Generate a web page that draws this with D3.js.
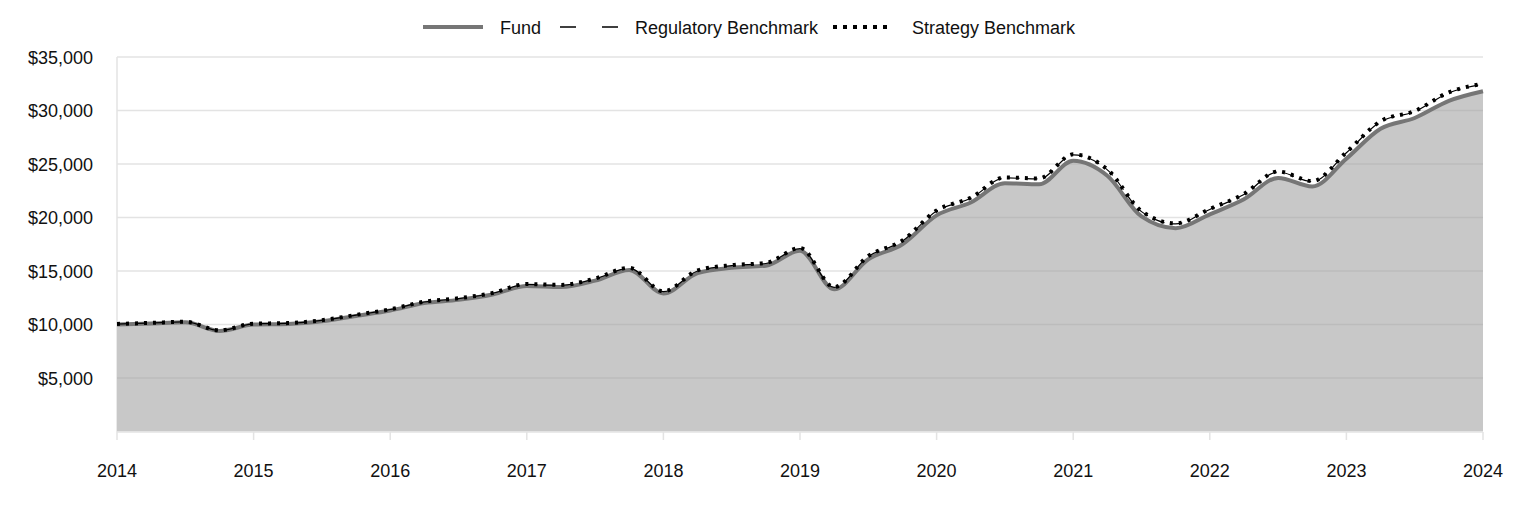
<!DOCTYPE html>
<html>
<head>
<meta charset="utf-8">
<script src="https://cdn.jsdelivr.net/npm/d3@7"></script>
<style>
  body { margin: 0; background: #fff; }
  svg { font-family: "Liberation Sans", Arial, sans-serif; }
</style>
</head>
<body>
<svg width="1524" height="516"></svg>
<script>
// quarterly points, 2014 Q1 .. 2024 Q1
const years = d3.range(41).map((i) => 2014 + i / 4);

const fund = [
  10000, 10100, 10200, 9400, 10000, 10050, 10300, 10800, 11300,
  12000, 12300, 12800, 13600, 13500, 14100, 15100, 12900,
  14800, 15300, 15500, 16900, 13300, 16100, 17500, 20200,
  21400, 23200, 23100, 25300, 23900, 20100, 19000, 20300,
  21700, 23700, 22900, 25500, 28300, 29300, 30900, 31800
];

const strategy = [
  10050, 10150, 10250, 9450, 10080, 10130, 10400, 10900, 11420,
  12130, 12450, 12950, 13780, 13700, 14300, 15300, 13100,
  15050, 15550, 15750, 17150, 13500, 16400, 17850, 20650,
  21850, 23750, 23650, 25900, 24500, 20600, 19450, 20800,
  22200, 24300, 23400, 26100, 29000, 29950, 31700, 32500
];

const regulatory = [
  10040, 10140, 10240, 9440, 10060, 10110, 10380, 10880, 11400,
  12100, 12420, 12920, 13750, 13670, 14270, 15260, 13070,
  15000, 15500, 15700, 17100, 13470, 16350, 17800, 20600,
  21800, 23700, 23600, 25850, 24450, 20550, 19400, 20750,
  22150, 24250, 23350, 26050, 28950, 29900, 31650, 32450
];

const yTicks = [5000, 10000, 15000, 20000, 25000, 30000, 35000];
const xTicks = d3.range(2014, 2025);

const svg = d3.select("svg");
const x = d3.scaleLinear().domain([2014, 2024]).range([117, 1483]);
const y = d3.scaleLinear().domain([0, 35000]).range([431.5, 57]);

// grid
svg.append("g")
  .selectAll("line")
  .data(yTicks)
  .join("line")
  .attr("x1", 117)
  .attr("x2", 1483)
  .attr("y1", (d) => y(d))
  .attr("y2", (d) => y(d))
  .attr("stroke", "#e3e3e3")
  .attr("stroke-width", 1.5);

// left axis line
svg.append("line")
  .attr("x1", 117).attr("x2", 117)
  .attr("y1", 57).attr("y2", 432)
  .attr("stroke", "#e3e3e3").attr("stroke-width", 1.5);

const fundData = years.map((t, i) => ({ t, v: fund[i] }));
const curve = d3.curveMonotoneX;

const area = d3.area()
  .x((d) => x(d.t))
  .y0(y(0))
  .y1((d) => y(d.v))
  .curve(curve);

svg.append("path")
  .datum(fundData)
  .attr("d", area)
  .attr("fill", "#c8c8c8");

svg.append("clipPath").attr("id", "under")
  .append("path").datum(fundData).attr("d", area);

// gridlines over the area appear slightly darker
svg.append("g")
  .attr("clip-path", "url(#under)")
  .selectAll("line")
  .data(yTicks)
  .join("line")
  .attr("x1", 117)
  .attr("x2", 1483)
  .attr("y1", (d) => y(d))
  .attr("y2", (d) => y(d))
  .attr("stroke", "#bcbcbc")
  .attr("stroke-width", 1.5);

const line = d3.line()
  .x((d) => x(d.t))
  .y((d) => y(d.v))
  .curve(curve);

svg.append("path")
  .datum(fundData)
  .attr("d", line)
  .attr("fill", "none")
  .attr("stroke", "#767676")
  .attr("stroke-width", 4);

svg.append("path")
  .datum(years.map((t, i) => ({ t, v: regulatory[i] })))
  .attr("d", line)
  .attr("fill", "none")
  .attr("stroke", "#000")
  .attr("stroke-width", 1.2)
  .attr("stroke-dasharray", "12,6");

svg.append("path")
  .datum(years.map((t, i) => ({ t, v: strategy[i] })))
  .attr("d", line)
  .attr("fill", "none")
  .attr("stroke", "#000")
  .attr("stroke-width", 4)
  .attr("stroke-dasharray", "3,6");

// x baseline + ticks
svg.append("line")
  .attr("x1", 117).attr("x2", 1483)
  .attr("y1", 432).attr("y2", 432)
  .attr("stroke", "#e3e3e3").attr("stroke-width", 1.5);

svg.append("g")
  .selectAll("line")
  .data(xTicks)
  .join("line")
  .attr("x1", (d) => x(d))
  .attr("x2", (d) => x(d))
  .attr("y1", 432)
  .attr("y2", 440)
  .attr("stroke", "#e3e3e3")
  .attr("stroke-width", 1.5);

svg.append("g")
  .selectAll("text")
  .data(xTicks)
  .join("text")
  .attr("x", (d) => x(d))
  .attr("y", 477)
  .attr("text-anchor", "middle")
  .attr("font-size", 18)
  .attr("fill", "#111")
  .text((d) => d);

svg.append("g")
  .selectAll("text")
  .data(yTicks)
  .join("text")
  .attr("x", 93)
  .attr("y", (d) => y(d) + 6.5)
  .attr("text-anchor", "end")
  .attr("font-size", 18)
  .attr("fill", "#111")
  .text((d) => "$" + d3.format(",")(d));

// legend
const legend = svg.append("g");
legend.append("line")
  .attr("x1", 423).attr("x2", 483).attr("y1", 27).attr("y2", 27)
  .attr("stroke", "#767676").attr("stroke-width", 4);
legend.append("text").attr("x", 500).attr("y", 33.5)
  .attr("font-size", 18).attr("fill", "#111").text("Fund");
legend.append("line")
  .attr("x1", 560).attr("x2", 618).attr("y1", 27).attr("y2", 27)
  .attr("stroke", "#000").attr("stroke-width", 1.5)
  .attr("stroke-dasharray", "16,26");
legend.append("text").attr("x", 635).attr("y", 33.5)
  .attr("font-size", 18).attr("fill", "#111").text("Regulatory Benchmark");
legend.append("line")
  .attr("x1", 833).attr("x2", 888).attr("y1", 27).attr("y2", 27)
  .attr("stroke", "#000").attr("stroke-width", 4)
  .attr("stroke-dasharray", "4,6");
legend.append("text").attr("x", 912).attr("y", 33.5)
  .attr("font-size", 18).attr("fill", "#111").text("Strategy Benchmark");
</script>
</body>
</html>
